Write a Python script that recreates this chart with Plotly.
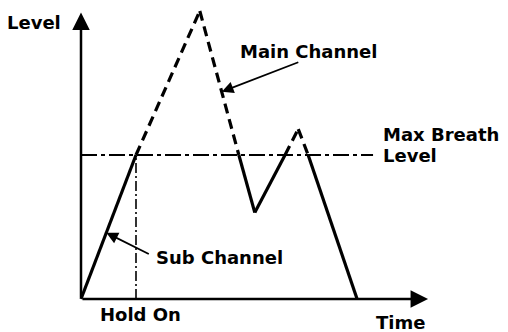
import plotly.graph_objects as go

# envelope of the main channel (time, level); sub channel is the first ramp
time_pts = [0, 10, 21.6, 28.7, 31.6, 37.1, 39.5, 41.3, 50.2]
level_pts = [0, 100, 200, 100, 60, 100, 118, 100, 0]
max_breath = 100
hold_on_t = 10
time_end = 63.1
level_top = 199
breath_line_end = 53.1

PX_X = 5.5   # px per time unit
PX_Y = 1.44  # px per level unit
PAGE_PAD = 8  # default body margin of the html page
X0, Y0 = 81 - PAGE_PAD, 299 - PAGE_PAD

font = dict(family="DejaVu Sans", size=18, color="black", weight="bold")

fig = go.Figure()

# split envelope: solid below/at max breath, dashed above it
for i in range(len(time_pts) - 1):
    above = level_pts[i] > max_breath or level_pts[i + 1] > max_breath
    fig.add_trace(go.Scatter(
        x=time_pts[i:i + 2], y=level_pts[i:i + 2], mode="lines",
        line=dict(color="black", width=3.2, dash="10px,6px" if above else "solid"),
        hoverinfo="skip", showlegend=False))

# max breath level line
fig.add_trace(go.Scatter(
    x=[0, breath_line_end], y=[max_breath, max_breath], mode="lines",
    line=dict(color="black", width=2, dash="16px,4px,4px,4px"),
    hoverinfo="skip", showlegend=False))

# hold on marker
fig.add_trace(go.Scatter(
    x=[hold_on_t, hold_on_t], y=[0, max_breath], mode="lines",
    line=dict(color="black", width=1.6, dash="10px,3px,2px,3px"),
    hoverinfo="skip", showlegend=False))

# axes with arrows
for tip in [(0, level_top), (time_end, 0)]:
    fig.add_annotation(x=tip[0], y=tip[1], ax=0, ay=0, xref="x", yref="y",
                       axref="x", ayref="y", showarrow=True, arrowhead=2,
                       arrowsize=1.4, arrowwidth=2.5, arrowcolor="black", text="")

# pointer arrows
fig.add_annotation(x=25.6, y=144, ax=78, ay=-30, showarrow=True, arrowhead=2,
                   arrowsize=1.3, arrowwidth=1.8, arrowcolor="black", text="")
fig.add_annotation(x=4.6, y=46, ax=44, ay=22, showarrow=True, arrowhead=2,
                   arrowsize=1.3, arrowwidth=1.8, arrowcolor="black", text="")

# labels
labels = [
    ("Level", -3.2, 192, "right"),
    ("Main Channel", 28.6, 172, "left"),
    ("Max Breath", 54.6, 114, "left"),
    ("Level", 54.6, 100, "left"),
    ("Sub Channel", 13.2, 29, "left"),
    ("Hold On", 10.9, -11, "center"),
    ("Time", 53.3, -16, "left"),
]
for txt, tx, ly, anchor in labels:
    fig.add_annotation(x=tx, y=ly, text=txt, showarrow=False, font=font,
                       xanchor=anchor, yanchor="middle")

W, H = 508 - PAGE_PAD, 332 - PAGE_PAD
fig.update_layout(
    width=W, height=H, margin=dict(l=0, r=0, t=0, b=0),
    plot_bgcolor="white", paper_bgcolor="white",
    xaxis=dict(range=[-X0 / PX_X, (W - X0) / PX_X], visible=False),
    yaxis=dict(range=[-(H - Y0) / PX_Y, Y0 / PX_Y], visible=False),
)

fig.write_html("out.html")
